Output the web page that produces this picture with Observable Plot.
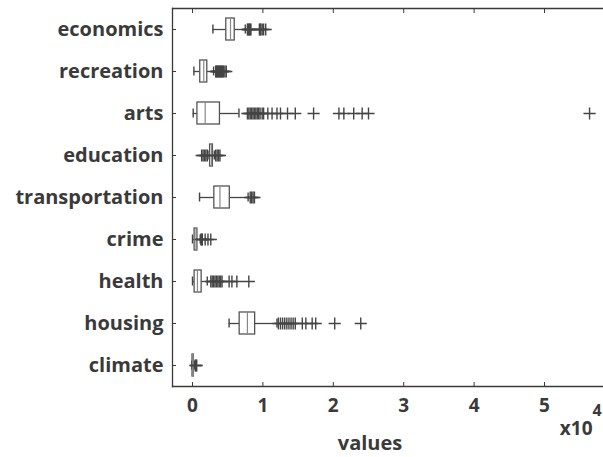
<!DOCTYPE html>
<html>
<head>
<meta charset="utf-8">
<script src="https://cdn.jsdelivr.net/npm/d3@7"></script>
<script src="https://cdn.jsdelivr.net/npm/@observablehq/plot@0.6"></script>
<style>
  html, body { margin: 0; padding: 0; background: #fff; overflow: hidden; }
</style>
</head>
<body>
<div id="chart"></div>
<script>
const categories = ["economics", "recreation", "arts", "education", "transportation", "crime", "health", "housing", "climate"];
const whiskerLow  = [0.29, 0.02, 0.01, 0.22, 0.10, 0.00, 0.00, 0.52, -0.01];
const quartile1   = [0.48, 0.11, 0.07, 0.25, 0.31, 0.03, 0.03, 0.67, 0.00];
const medians     = [0.54, 0.16, 0.18, 0.27, 0.39, 0.05, 0.07, 0.78, 0.01];
const quartile3   = [0.60, 0.21, 0.39, 0.29, 0.53, 0.07, 0.13, 0.89, 0.02];
const whiskerHigh = [0.75, 0.30, 0.66, 0.31, 0.79, 0.11, 0.21, 1.20, 0.03];

const outEconomics = [0.78, 0.79, 0.80, 0.81, 0.82, 0.83, 0.95, 0.96, 0.97, 0.99, 1.01, 1.04];
const outRecreation = [0.33, 0.34, 0.35, 0.36, 0.37, 0.38, 0.39, 0.40, 0.41, 0.42, 0.43, 0.44, 0.46, 0.48];
const outArts = [0.78, 0.80, 0.82, 0.84, 0.86, 0.88, 0.90, 0.92, 0.94, 0.96, 0.99, 1.01, 1.07, 1.13, 1.20, 1.25, 1.35, 1.46, 1.72, 2.08, 2.15, 2.29, 2.41, 2.50, 5.64];
const outEducation = [0.13, 0.15, 0.17, 0.19, 0.21, 0.33, 0.35, 0.37, 0.39];
const outTransportation = [0.82, 0.84, 0.86, 0.88];
const outCrime = [0.12, 0.13, 0.14, 0.18, 0.22, 0.26];
const outHealth = [0.26, 0.28, 0.30, 0.32, 0.34, 0.36, 0.38, 0.40, 0.42, 0.52, 0.56, 0.63, 0.80];
const outHousing = [1.22, 1.25, 1.28, 1.31, 1.34, 1.37, 1.40, 1.43, 1.46, 1.56, 1.61, 1.70, 1.75, 2.02, 2.39];
const outClimate = [0.04, 0.05, 0.06];

const xTicks = [0, 1, 2, 3, 4, 5];
const axisLabel = "values";
const scaleLabel = "x10";
const scaleExponent = "4";

const outlierLists = [outEconomics, outRecreation, outArts, outEducation, outTransportation, outCrime, outHealth, outHousing, outClimate];
const stats = categories.map((c, i) => ({cat: c, lo: whiskerLow[i], q1: quartile1[i], med: medians[i], q3: quartile3[i], hi: whiskerHigh[i]}));
const outliers = categories.flatMap((c, i) => outlierLists[i].map(v => ({cat: c, v})));

const ink = "#3a3a3a";
const font = "Open Sans";

const chart = Plot.plot({
  width: 603,
  height: 457,
  marginLeft: 172,
  marginRight: 0,
  marginTop: 8,
  marginBottom: 71,
  style: {fontFamily: font, color: ink, background: "#fff"},
  x: {domain: [-0.284, 5.838]},
  y: {type: "band", domain: categories, padding: 0},
  marks: [
    Plot.frame({anchor: "top", stroke: ink, strokeWidth: 1.3}),
    Plot.frame({anchor: "bottom", stroke: ink, strokeWidth: 1.3}),
    Plot.frame({anchor: "left", stroke: ink, strokeWidth: 1.3}),
    Plot.ruleY(stats, {y: "cat", x1: "lo", x2: "q1", stroke: "#444", strokeWidth: 1.3}),
    Plot.ruleY(stats, {y: "cat", x1: "q3", x2: "hi", stroke: "#444", strokeWidth: 1.3}),
    Plot.tickX(stats, {x: "lo", y: "cat", stroke: "#444", strokeWidth: 1.4, insetTop: 16.5, insetBottom: 16.5}),
    Plot.tickX(stats, {x: "hi", y: "cat", stroke: "#444", strokeWidth: 1.4, insetTop: 16.5, insetBottom: 16.5}),
    Plot.barX(stats, {x1: "q1", x2: "q3", y: "cat", fill: "#fff", stroke: "#555", strokeWidth: 1.3, insetTop: 10, insetBottom: 10}),
    Plot.tickX(stats, {x: "med", y: "cat", stroke: "#888", strokeWidth: 1.2, insetTop: 10, insetBottom: 10}),
    Plot.dot(outliers, {x: "v", y: "cat", symbol: "plus", r: 4, stroke: "#444", strokeWidth: 1.4}),
    Plot.axisX({anchor: "top", ticks: xTicks, tickSize: -4, tickFormat: () => "", label: null, stroke: ink}),
    Plot.axisX({anchor: "bottom", ticks: xTicks, tickSize: -4, tickFormat: () => "", label: null, stroke: ink}),
    Plot.axisX({anchor: "bottom", ticks: xTicks, tickSize: 0, tickPadding: 12, tickFormat: d3.format("d"), label: null, fontSize: 19, fontWeight: "bold", fill: ink}),
    Plot.axisY({anchor: "left", tickSize: -4, tickFormat: () => "", label: null, stroke: ink}),
    Plot.axisY({anchor: "left", tickSize: 0, tickPadding: 9, label: null, fontSize: 20, fontWeight: "bold", fill: ink}),
    Plot.text([axisLabel], {text: d => d, frameAnchor: "bottom", dx: -18, dy: 63, fontSize: 20, fontWeight: "bold", fill: ink}),
    Plot.text([scaleLabel], {text: d => d, frameAnchor: "bottom-right", textAnchor: "end", dx: -11, dy: 48, fontSize: 19, fontWeight: "bold", fill: ink}),
    Plot.text([scaleExponent], {text: d => d, frameAnchor: "bottom-right", textAnchor: "start", dx: -11, dy: 29, fontSize: 16, fontWeight: "bold", fill: ink})
  ]
});
document.getElementById("chart").appendChild(chart);
</script>
</body>
</html>
